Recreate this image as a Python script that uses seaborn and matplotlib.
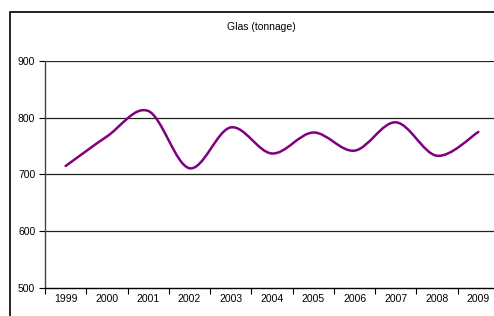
import numpy as np
import matplotlib
matplotlib.use("Agg")
import matplotlib.pyplot as plt
import seaborn as sns
from matplotlib.path import Path
from matplotlib.patches import PathPatch, Rectangle

# data
years = ["1999", "2000", "2001", "2002", "2003", "2004", "2005", "2006", "2007", "2008", "2009"]
tonnage = [715, 767, 812, 711, 783, 737, 774, 742, 792, 733, 775]
title = "Glas (tonnage)"
y_ticks = [500, 600, 700, 800, 900]

sns.set_style("white")
plt.rcParams["font.family"] = ["Liberation Sans", "DejaVu Sans"]

fig = plt.figure(figsize=(4.94, 3.16), dpi=100)
ax = fig.add_axes([45 / 494, 28 / 316, 454 / 494, 227 / 316])

pos = np.arange(len(years))
sns.lineplot(x=pos, y=tonnage, ax=ax, color="#800080", linewidth=1.8)

# turn the straight polyline into a smoothed (excel-like) bezier through the same points
line = ax.lines[0]
pts = line.get_xydata()
verts = [pts[0]]
codes = [Path.MOVETO]
for i in range(len(pts) - 1):
    p0 = pts[i - 1] if i > 0 else pts[i]
    p1 = pts[i]
    p2 = pts[i + 1]
    p3 = pts[i + 2] if i + 2 < len(pts) else pts[i + 1]
    c1 = p1 + (p2 - p0) / 6
    c2 = p2 - (p3 - p1) / 6
    verts += [c1, c2, p2]
    codes += [Path.CURVE4] * 3
ax.add_patch(PathPatch(Path(verts, codes), facecolor="none", edgecolor="#800080",
                       linewidth=1.8, capstyle="round", joinstyle="round"))
line.remove()

ax.set_ylim(500, 900)
ax.set_xlim(-0.5, len(years) - 0.5)
ax.set_yticks(y_ticks)
ax.set_yticklabels([str(v) for v in y_ticks])
for v in y_ticks[1:]:
    ax.axhline(v, color="#222222", linewidth=0.9, zorder=0)

# ticks at category borders, labels in the middle
ax.set_xticks(np.arange(-0.5, len(years), 1.0))
ax.set_xticklabels([])
ax.set_xticks(pos, minor=True)
ax.set_xticklabels(years, minor=True)
ax.tick_params(axis="x", which="major", direction="out", length=4, width=0.8, color="black", bottom=True)
ax.tick_params(axis="x", which="minor", length=0, pad=4, labelsize=7.5, labelcolor="black")
ax.tick_params(axis="y", direction="out", length=4, width=0.8, color="black", left=True, pad=3,
               labelsize=7.5, labelcolor="black")

for side in ["top", "right"]:
    ax.spines[side].set_visible(False)
ax.spines["left"].set_color("#444444")
ax.spines["left"].set_linewidth(1)
ax.spines["bottom"].set_color("black")
ax.spines["bottom"].set_linewidth(1)
ax.set_xlabel("")
ax.set_ylabel("")

fig.text(261 / 494, 1 - 27 / 316, title, ha="center", va="center", fontsize=7.5, color="black")

# chart frame, cut off on the right and bottom
fig.patches.append(Rectangle((10 / 494, -0.1), 1.2, 1.1 - 12 / 316, transform=fig.transFigure,
                             fill=False, edgecolor="black", linewidth=1.2))

fig.savefig("out.png", dpi=100)
